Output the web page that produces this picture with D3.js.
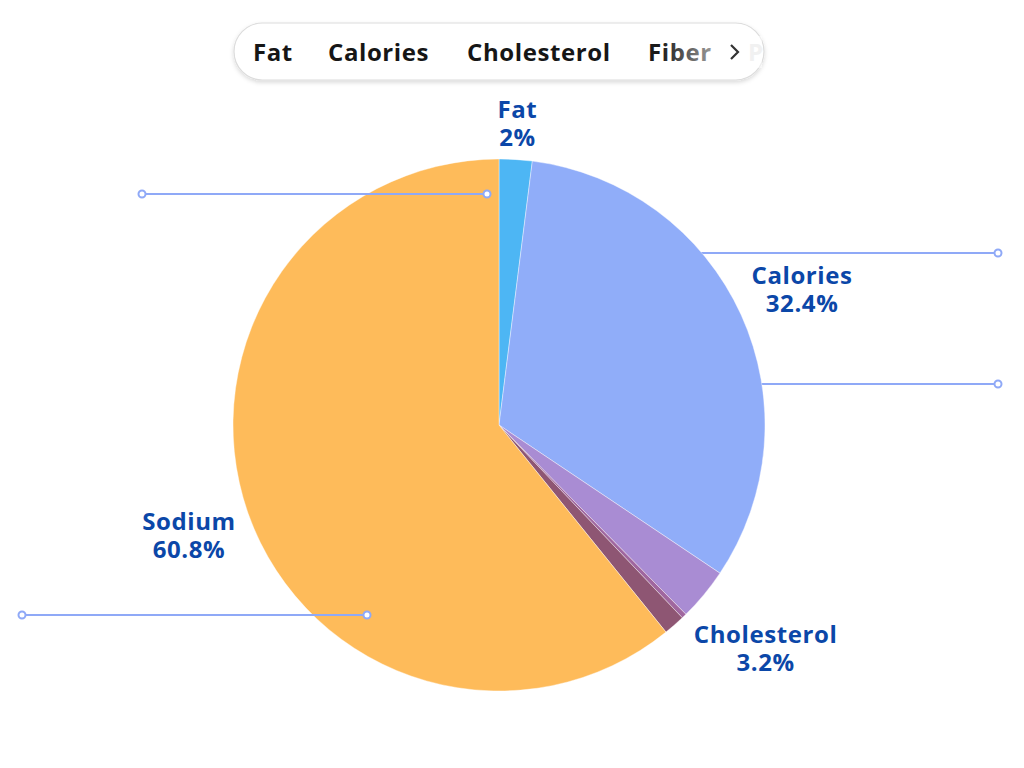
<!DOCTYPE html>
<html><head><meta charset="utf-8">
<script src="https://cdn.jsdelivr.net/npm/d3@7"></script>
<style>html,body{margin:0;padding:0;background:#fff;}svg{display:block;}</style>
</head><body>
<svg id="c" width="1024" height="768"></svg>
<script>
const categories = ["Fat","Calories","Cholesterol","Fiber","Protein","Sodium"];
const values = [2, 32.4, 3.2, 0.3, 1.3, 60.8];
const colors = ["#4db6f4","#90adf9","#a98cd3","#a0679f","#8e5673","#febb5a"];
const labelled = ["Fat","Calories","Cholesterol","Sodium"];
const legendItems = ["Fat","Calories","Cholesterol","Fiber","Protein"];

const svg = d3.select("#c");
const cx = 499, cy = 425, r = 266;
const font = "'Open Sans', sans-serif";
const fs = 24, ls = 0.6;

// defs
const defs = svg.append("defs");
const f = defs.append("filter").attr("id","sh").attr("x","-10%").attr("y","-30%").attr("width","120%").attr("height","170%");
f.append("feDropShadow").attr("dx",0).attr("dy",2).attr("stdDeviation",2).attr("flood-color","#000").attr("flood-opacity",0.15);
const g1 = defs.append("linearGradient").attr("id","fade").attr("gradientUnits","userSpaceOnUse")
  .attr("x1",660).attr("x2",712).attr("y1",0).attr("y2",0);
g1.append("stop").attr("offset","0").attr("stop-color","#1a1a1a");
g1.append("stop").attr("offset","1").attr("stop-color","#9a9a9a");

// leader-like lines under pie
const lineColor = "#8fa9f7";
const under = svg.append("g");
function hline(g, x1, x2, y, c1, c2){
  g.append("line").attr("x1",x1).attr("x2",x2).attr("y1",y).attr("y2",y)
    .attr("stroke",lineColor).attr("stroke-width",2);
  if(c1) g.append("circle").attr("cx",x1).attr("cy",y).attr("r",3.5).attr("fill","#fff").attr("stroke",lineColor).attr("stroke-width",2);
  if(c2) g.append("circle").attr("cx",x2).attr("cy",y).attr("r",3.5).attr("fill","#fff").attr("stroke",lineColor).attr("stroke-width",2);
}
hline(under, 690, 998, 253, false, true);
hline(under, 755, 998, 384, false, true);

// pie
const pie = d3.pie().sort(null).value(d=>d.v);
const data = categories.map((c,i)=>({name:c, v:values[i], color:colors[i]}));
const arcs = pie(data);
const arc = d3.arc().innerRadius(0).outerRadius(r);
const pg = svg.append("g").attr("transform",`translate(${cx},${cy})`);
pg.selectAll("path").data(arcs).join("path")
  .attr("d",arc).attr("fill",d=>d.data.color)
  .attr("stroke","#fff").attr("stroke-width",0.4);

// lines over pie
const over = svg.append("g");
hline(over, 142, 487, 194, true, true);
hline(over, 22, 367, 615, true, true);

// labels
const nudge = {Fat:[-2.5,39], Cholesterol:[10,20], Calories:[0,11], Sodium:[4,8]};
const lg = svg.append("g");
arcs.filter(a=>labelled.includes(a.data.name)).forEach(a=>{
  const m = (a.startAngle + a.endAngle)/2;
  const R = 333;
  const n = nudge[a.data.name] || [0,0];
  const x = cx + R*Math.sin(m) + n[0];
  const y = cy - R*Math.cos(m) + n[1];
  [[a.data.name, y-14],[d3.format(".3~r")(a.data.v)+"%", y+14]].forEach(([s,yy])=>{
    lg.append("text").attr("x",x).attr("y",yy).attr("text-anchor","middle")
      .attr("font-family",font).attr("font-weight",700).attr("font-size",fs)
      .attr("letter-spacing",ls).attr("fill","#0b47a8").text(s);
  });
});

// legend
const leg = svg.append("g");
leg.append("rect").attr("x",234).attr("y",23).attr("width",530).attr("height",57).attr("rx",28.5)
  .attr("fill","#fff").attr("stroke","#dcdcdc").attr("stroke-width",1.2).attr("filter","url(#sh)");
const legX = [253, 328, 467, 648, 748];
legendItems.forEach((name,i)=>{
  leg.append("text").attr("x",legX[i]).attr("y",61)
    .attr("font-family",font).attr("font-weight",700).attr("font-size",fs).attr("letter-spacing",ls)
    .attr("fill", i<3 ? "#161616" : (i===3 ? "url(#fade)" : "#e2e2e2")).text(i===4 ? name.slice(0,1) : name);
});
leg.append("rect").attr("x",742).attr("y",36).attr("width",20).attr("height",32).attr("fill","#fff").attr("opacity",0.5);
leg.append("path").attr("d","M731,45 L738,52 L731,59").attr("fill","none").attr("stroke","#333").attr("stroke-width",2.2);
</script>
</body></html>
